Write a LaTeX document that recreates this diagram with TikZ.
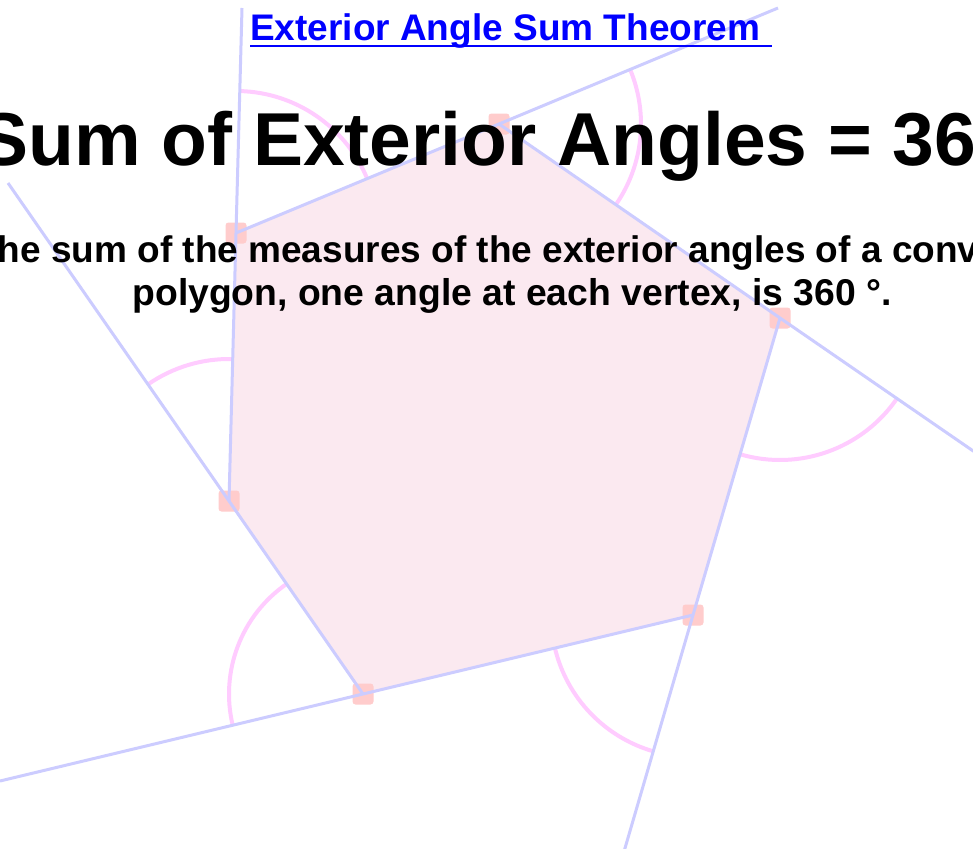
\documentclass[tikz,border=0pt]{standalone}
\usepackage{fontspec}
\setmainfont{Liberation Sans}
\usepackage{tikz}
\usetikzlibrary{calc}
\definecolor{edgeBlue}{RGB}{204,204,255}
\definecolor{arcPink}{RGB}{255,204,255}
\definecolor{polyPink}{RGB}{251,233,240}
\definecolor{dotRed}{RGB}{255,204,204}
\definecolor{linkBlue}{RGB}{0,0,255}

\begin{document}
\begin{tikzpicture}[x=1pt, y=-1pt,
    extline/.style={edgeBlue, line width=3pt},
    extarc/.style={arcPink, line width=4pt},
    vdot/.style={fill=dotRed, minimum size=21pt, inner sep=0pt, rounded corners=3pt},
    bigtext/.style={inner sep=0pt, font=\bfseries\fontsize{37}{43}\selectfont}]
    \path[use as bounding box, fill=white] (0,0) rectangle (973,848);
    \clip (0,0) rectangle (973,848);
    % polygon corners and free ends of the extended sides
    \coordinate (v1) at (236,233);
    \coordinate (v2) at (499,124);
    \coordinate (v3) at (780,318);
    \coordinate (v4) at (693,615);
    \coordinate (v5) at (363,694);
    \coordinate (v6) at (229,501);
    \coordinate (e1) at (242,8);
    \coordinate (e2) at (778,8);
    \coordinate (e3) at (995,466);
    \coordinate (e4) at (623,855);
    \coordinate (e5) at (0,781);
    \coordinate (e6) at (8,183);
    \fill[polyPink] (v1) -- (v2) -- (v3) -- (v4) -- (v5) -- (v6) -- cycle;
    \foreach \i in {1,...,6}
        \node[vdot] (dot\i) at (v\i) {};
    % exterior angles
    \draw[extarc] (v1) ++(-88.5:142) arc[start angle=-88.5, end angle=-22.5, radius=142];
    \draw[extarc] (v2) ++(-22.5:142) arc[start angle=-22.5, end angle=34.6, radius=142];
    \draw[extarc] (v3) ++(34.6:142) arc[start angle=34.6, end angle=106.3, radius=142];
    \draw[extarc] (v4) ++(106.3:142) arc[start angle=106.3, end angle=166.5, radius=142];
    \draw[extarc] (v5) ++(166.5:134) arc[start angle=166.5, end angle=235.2, radius=134];
    \draw[extarc] (v6) ++(235.2:142) arc[start angle=235.2, end angle=271.5, radius=142];
    % sides, each one run on past its corner
    \draw[extline] (v6) -- (v1) -- (e1);
    \draw[extline] (v1) -- (v2) -- (e2);
    \draw[extline] (v2) -- (v3) -- (e3);
    \draw[extline] (v3) -- (v4) -- (e4);
    \draw[extline] (v4) -- (v5) -- (e5);
    \draw[extline] (v5) -- (v6) -- (e6);
    % texts
    \node[bigtext, linkBlue, anchor=base west] (title) at (250,41) {Exterior Angle Sum Theorem};
    \draw[linkBlue, line width=2pt] ([yshift=-5pt]title.base west) -- ([xshift=12pt, yshift=-5pt]title.base east);
    \node[inner sep=0pt, anchor=base west, font=\bfseries\fontsize{75}{86}\selectfont] (heading) at (-22,165) {Sum of Exterior Angles = 36};
    \node[bigtext, anchor=base west] (lineA) at (-2.5,262) {he sum of the measures of the exterior angles of a conv};
    \node[inner sep=0pt, anchor=base, font=\bfseries\fontsize{37.3}{43}\selectfont] (lineB) at (512,305) {polygon, one angle at each vertex, is 360 °.};
\end{tikzpicture}
\end{document}
